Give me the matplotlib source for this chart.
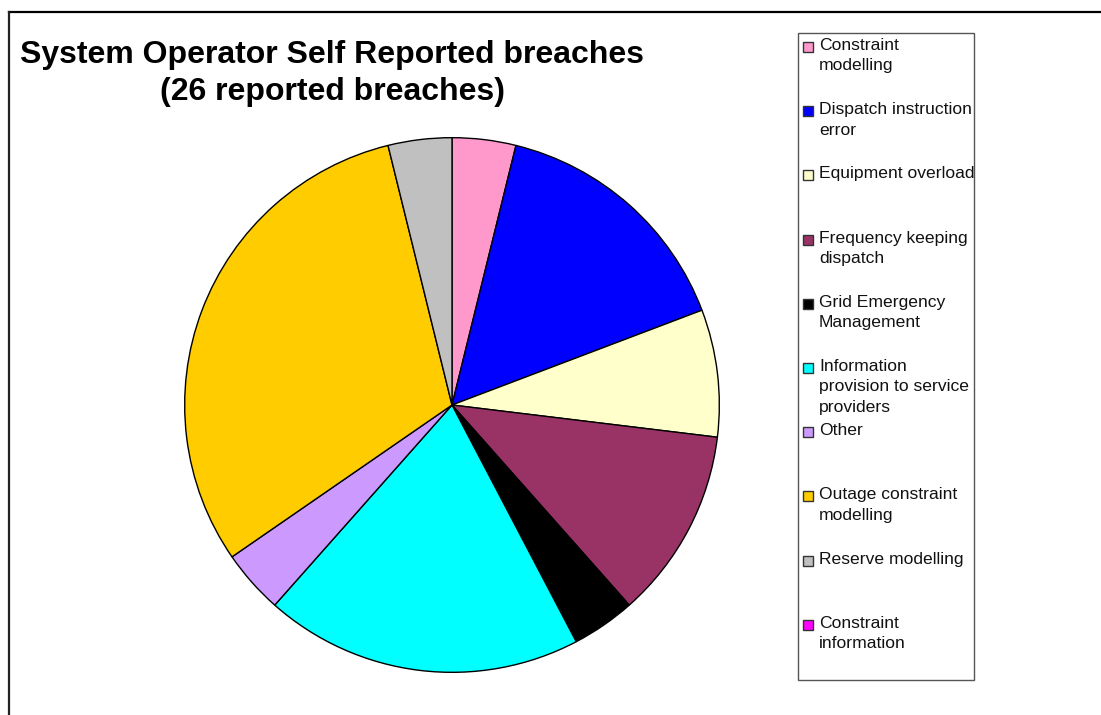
import matplotlib
matplotlib.use("Agg")
import matplotlib.pyplot as plt
from matplotlib.patches import Rectangle
from matplotlib.lines import Line2D

categories = ["Constraint\nmodelling", "Dispatch instruction\nerror", "Equipment overload",
              "Frequency keeping\ndispatch", "Grid Emergency\nManagement",
              "Information\nprovision to service\nproviders", "Other",
              "Outage constraint\nmodelling", "Reserve modelling", "Constraint\ninformation"]
values = [1, 4, 2, 3, 1, 5, 1, 8, 1, 0]
colors = ["#FF99CC", "#0000FF", "#FFFFCC", "#993366", "#000000",
          "#00FFFF", "#CC99FF", "#FFCC00", "#C0C0C0", "#FF00FF"]
title = "System Operator Self Reported breaches\n(26 reported breaches)"

W, H = 1101, 715
fig = plt.figure(figsize=(W / 100, H / 100), dpi=100)
fig.patch.set_facecolor("white")

def fx(px):
    return px / W

def fy(py):
    return 1 - py / H

# frame lines (top and left)
fig.add_artist(Line2D([fx(9), 1.0], [fy(11.5), fy(11.5)], color="black", lw=1.6,
                      transform=fig.transFigure))
fig.add_artist(Line2D([fx(9), fx(9)], [fy(11.5), 0.0], color="#222222", lw=1.6,
                      transform=fig.transFigure))

# pie
cx, cy, r = 452, 405, 270
ax = fig.add_axes([fx(cx - r), fy(cy + r), (2 * r) / W, (2 * r) / H])
pv = [v for v in values if v > 0]
pc = [c for v, c in zip(values, colors) if v > 0]
ax.pie(pv, colors=pc, startangle=90, counterclock=False, radius=1,
       wedgeprops=dict(edgecolor="black", linewidth=1.0))
ax.set_xlim(-1.01, 1.01)
ax.set_ylim(-1.01, 1.01)
ax.set_aspect("equal")
ax.axis("off")

# title
fig.text(fx(332), fy(40), title, ha="center", va="top", fontsize=23,
         fontweight="bold", family="Liberation Sans", linespacing=1.32)

# legend box
fig.add_artist(Rectangle((fx(798), fy(680)), fx(974) - fx(798), fy(33) - fy(680),
                         transform=fig.transFigure, facecolor="white",
                         edgecolor="#555555", lw=1.0))
for i, (lab, col) in enumerate(zip(categories, colors)):
    ytop = 40 + 64.2 * i
    fig.add_artist(Rectangle((fx(803), fy(ytop + 12)), 10 / W, 10 / H,
                             transform=fig.transFigure, facecolor=col,
                             edgecolor="#333333", lw=1.0))
    fig.text(fx(819), fy(ytop - 2), lab, ha="left", va="top", fontsize=12.6,
             family="Liberation Sans", color="#111111", linespacing=1.45)

fig.savefig("out.png", dpi=100, facecolor="white")
